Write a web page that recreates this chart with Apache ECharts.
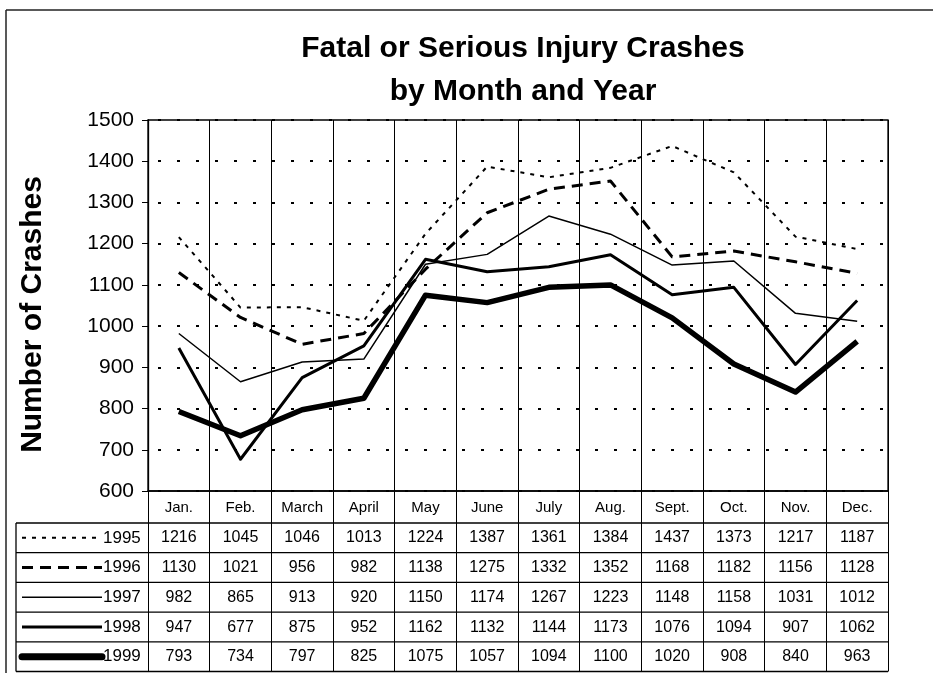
<!DOCTYPE html>
<html>
<head>
<meta charset="utf-8">
<title>Fatal or Serious Injury Crashes</title>
<script src="https://cdn.jsdelivr.net/npm/echarts@6/dist/echarts.min.js"></script>
<style>
    html, body { margin: 0; padding: 0; background: #fff; }
    #container { width: 933px; height: 673px; }
</style>
</head>
<body>
<div id="container"></div>
<script>

var months = ['Jan.', 'Feb.', 'March', 'April', 'May', 'June', 'July', 'Aug.', 'Sept.', 'Oct.', 'Nov.', 'Dec.'];
var years = ['1995', '1996', '1997', '1998', '1999'];
var y1995 = [1216, 1045, 1046, 1013, 1224, 1387, 1361, 1384, 1437, 1373, 1217, 1187];
var y1996 = [1130, 1021, 956, 982, 1138, 1275, 1332, 1352, 1168, 1182, 1156, 1128];
var y1997 = [982, 865, 913, 920, 1150, 1174, 1267, 1223, 1148, 1158, 1031, 1012];
var y1998 = [947, 677, 875, 952, 1162, 1132, 1144, 1173, 1076, 1094, 907, 1062];
var y1999 = [793, 734, 797, 825, 1075, 1057, 1094, 1100, 1020, 908, 840, 963];
var yTicks = { min: 600, max: 1500, interval: 100 };

var rows = [y1995, y1996, y1997, y1998, y1999];

// layout
var GRID_LEFT = 148, GRID_TOP = 120, GRID_W = 740, GRID_H = 371;
var HEADER_H = 32, ROW_H = 29.7;
var TABLE_LEFT = 16;
var FONT = 'Liberation Sans, Arial, sans-serif';

// line looks per year (legend sample + series)
var looks = [
    { width: 2, type: [4, 6] },
    { width: 3, type: [11, 7] },
    { width: 1.5, type: 'solid' },
    { width: 3, type: 'solid' },
    { width: 5.5, type: 'solid' }
];

var dom = document.getElementById("container");
var myChart = echarts.init(dom);

var bottomY = GRID_TOP + GRID_H;
var tableTop = bottomY + HEADER_H;
var tableBottom = tableTop + ROW_H * rows.length;

var xAxes = [{
    type: 'category',
    data: months,
    boundaryGap: true,
    position: 'bottom',
    axisLine: { show: true, lineStyle: { color: '#000', width: 1.5 } },
    axisTick: { show: true, interval: 0, length: tableBottom - bottomY, lineStyle: { color: '#000', width: 1 } },
    axisLabel: { interval: 0, margin: 9, fontSize: 15, color: '#000', fontFamily: FONT },
    splitLine: { show: true, interval: 0, lineStyle: { color: '#000', width: 1 } }
}];

// one hidden axis per table row, so cell values sit on the month bands
for (var r = 0; r < rows.length; r++) {
    xAxes.push({
        type: 'category',
        gridIndex: 0,
        data: rows[r].map(function (v) { return String(v); }),
        boundaryGap: true,
        position: 'bottom',
        offset: HEADER_H + ROW_H * r,
        axisLine: { show: false },
        axisTick: { show: false },
        splitLine: { show: false },
        axisLabel: { interval: 0, margin: 7, fontSize: 16, color: '#000', fontFamily: FONT }
    });
}

var series = [];
for (var i = 0; i < rows.length; i++) {
    series.push({
        name: years[i],
        type: 'line',
        xAxisIndex: 0,
        data: rows[i],
        showSymbol: false,
        symbol: 'none',
        silent: true,
        lineStyle: { color: '#000', width: looks[i].width, type: looks[i].type, cap: 'butt', join: 'round' }
    });
}

// table lines and the legend column
var graphics = [];
// outer frame
graphics.push({ type: 'line', shape: { x1: 6, y1: 10, x2: 933, y2: 10 }, style: { stroke: '#222', lineWidth: 1.5 } });
graphics.push({ type: 'line', shape: { x1: 6, y1: 10, x2: 6, y2: 673 }, style: { stroke: '#222', lineWidth: 1.5 } });
// horizontal row lines
for (var k = 0; k <= rows.length; k++) {
    var yy = tableTop + ROW_H * k;
    graphics.push({ type: 'line', shape: { x1: TABLE_LEFT, y1: yy, x2: GRID_LEFT + GRID_W, y2: yy }, style: { stroke: '#000', lineWidth: 1.3 } });
}
graphics.push({ type: 'line', shape: { x1: TABLE_LEFT, y1: tableTop, x2: TABLE_LEFT, y2: tableBottom }, style: { stroke: '#000', lineWidth: 1.3 } });
// legend samples
for (var j = 0; j < years.length; j++) {
    var cy = tableTop + ROW_H * j + ROW_H / 2;
    graphics.push({
        type: 'line',
        shape: { x1: 22, y1: cy, x2: 102, y2: cy },
        style: { stroke: '#000', lineWidth: looks[j].width + (j === 4 ? 1.5 : 0), lineDash: looks[j].type === 'solid' ? null : looks[j].type, lineCap: j === 4 ? 'round' : 'butt' }
    });
    graphics.push({
        type: 'text',
        x: 103, y: cy,
        style: { text: years[j], fontSize: 17, fontFamily: FONT, fill: '#000', verticalAlign: 'middle', align: 'left' }
    });
}

var option = {
    animation: false,
    backgroundColor: '#fff',
    title: {
        text: 'Fatal or Serious Injury Crashes\nby Month and Year',
        left: GRID_LEFT + GRID_W / 2,
        top: 22,
        textAlign: 'center',
        textStyle: { fontSize: 30, fontWeight: 'bold', fontFamily: FONT, color: '#000', lineHeight: 43 }
    },
    grid: {
        left: GRID_LEFT,
        top: GRID_TOP,
        width: GRID_W,
        height: GRID_H,
        show: true,
        borderColor: '#000',
        borderWidth: 1.3,
        containLabel: false
    },
    xAxis: xAxes,
    yAxis: {
        type: 'value',
        min: yTicks.min,
        max: yTicks.max,
        interval: yTicks.interval,
        name: 'Number of Crashes',
        nameLocation: 'middle',
        nameRotate: 90,
        nameGap: 100,
        nameTextStyle: { fontSize: 30, fontWeight: 'bold', fontFamily: FONT, color: '#000', padding: [0, 18, 0, 0] },
        axisLine: { show: true, lineStyle: { color: '#000', width: 1.3 } },
        axisTick: { show: true, length: 6, lineStyle: { color: '#000' } },
        axisLabel: {
            margin: 14, fontSize: 21, color: '#000', fontFamily: FONT,
            formatter: function (v) { return String(v); }
        },
        splitLine: { show: true, lineStyle: { color: '#000', width: 2, type: [3, 16], dashOffset: -10 } }
    },
    series: series,
    graphic: graphics
};

if (option && typeof option === "object") {
    myChart.setOption(option, true);
}
</script>
</body>
</html>
